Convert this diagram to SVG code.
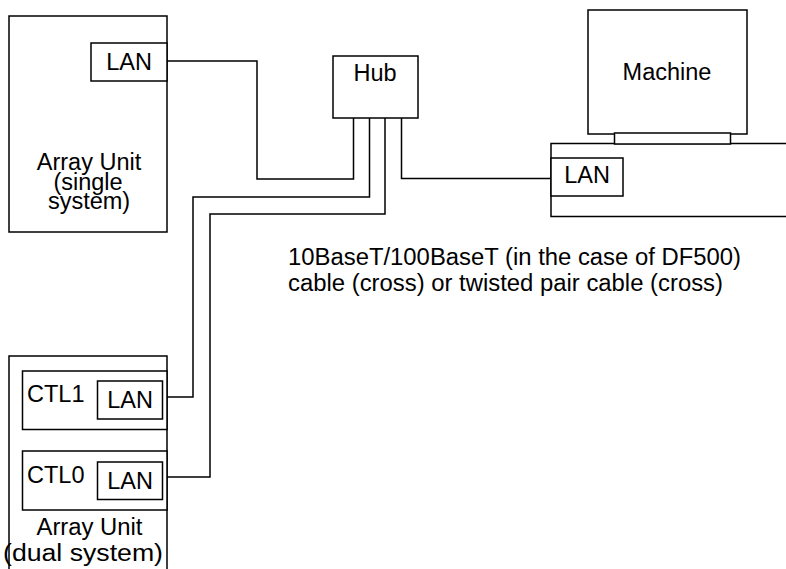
<svg xmlns="http://www.w3.org/2000/svg" width="786" height="569" viewBox="0 0 786 569">
<style>
.b{fill:#fff;stroke:#000;stroke-width:1.5}
.l{fill:none;stroke:#000;stroke-width:1.5}
text{font-family:"Liberation Sans",Arial,sans-serif;font-size:23.5px;fill:#000}
.m{text-anchor:middle}
</style>
<rect width="786" height="569" fill="#fff"/>
<g id="connectors">
<polyline class="l" points="167,61 257,61 257,179 353.5,179 353.5,118"/>
<polyline class="l" points="369.5,118 369.5,197 193,197 193,397 167,397"/>
<polyline class="l" points="385,118 385,214 210,214 210,477 167,477"/>
<polyline class="l" points="401.5,118 401.5,178.5 551,178.5"/>
</g>
<g id="array-single">
<rect class="b" x="9" y="16" width="158" height="216"/>
<rect class="b" x="91" y="43" width="76" height="38"/>
<text class="m" x="129" y="70">LAN</text>
<text class="m" x="89" y="170">Array Unit</text>
<text class="m" x="88" y="190">(single</text>
<text class="m" x="89" y="209">system)</text>
</g>
<g id="hub">
<rect class="b" x="333" y="56" width="85" height="62"/>
<text class="m" x="375" y="81">Hub</text>
</g>
<g id="machine">
<rect class="b" x="588" y="10" width="159" height="124"/>
<text class="m" x="667" y="80">Machine</text>
<path class="l" d="M787,143.5 H551 V216.5 H787"/>
<rect class="b" x="614.5" y="133" width="116" height="11"/>
<rect class="b" x="551" y="158" width="72" height="38"/>
<text class="m" x="587" y="183">LAN</text>
</g>
<g id="array-dual">
<path class="l" d="M9,571 V356 H167 V571"/>
<rect class="b" x="22.5" y="371" width="144.5" height="58.5"/>
<text x="27" y="402">CTL1</text>
<rect class="b" x="97.5" y="381" width="65" height="38"/>
<text class="m" x="130" y="408">LAN</text>
<rect class="b" x="22.5" y="451" width="144.5" height="59"/>
<text x="27" y="483">CTL0</text>
<rect class="b" x="97.5" y="462" width="65" height="37.5"/>
<text class="m" x="130" y="489">LAN</text>
<text class="m" x="89.5" y="535" textLength="106" lengthAdjust="spacingAndGlyphs">Array Unit</text>
<text x="3" y="561" textLength="160" lengthAdjust="spacingAndGlyphs">(dual system)</text>
</g>
<g id="cable-label">
<text x="288" y="265" textLength="453" lengthAdjust="spacingAndGlyphs">10BaseT/100BaseT (in the case of DF500)</text>
<text x="288" y="291" textLength="435" lengthAdjust="spacingAndGlyphs">cable (cross) or twisted pair cable (cross)</text>
</g>
</svg>
